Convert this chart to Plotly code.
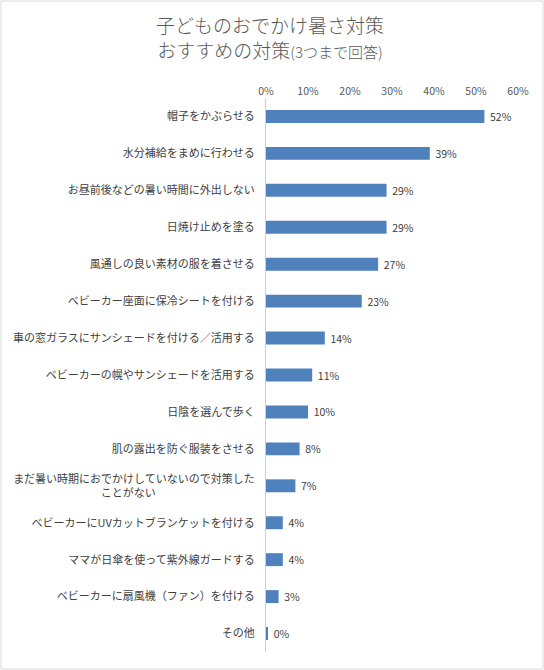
import plotly.graph_objects as go

categories = [
    "帽子をかぶらせる",
    "水分補給をまめに行わせる",
    "お昼前後などの暑い時間に外出しない",
    "日焼け止めを塗る",
    "風通しの良い素材の服を着させる",
    "ベビーカー座面に保冷シートを付ける",
    "車の窓ガラスにサンシェードを付ける／活用する",
    "ベビーカーの幌やサンシェードを活用する",
    "日陰を選んで歩く",
    "肌の露出を防ぐ服装をさせる",
    "まだ暑い時期におでかけしていないので対策した<br>ことがない\u3000\u3000\u3000\u3000\u3000\u3000\u3000\u3000\u3000",
    "ベビーカーにUVカットブランケットを付ける",
    "ママが日傘を使って紫外線ガードする",
    "ベビーカーに扇風機（ファン）を付ける",
    "その他",
]
values = [0.52, 0.39, 0.287, 0.287, 0.267, 0.228, 0.14, 0.11, 0.10, 0.08, 0.07, 0.04, 0.04, 0.03, 0.003]
tick_vals = [0, 0.1, 0.2, 0.3, 0.4, 0.5, 0.6]
tick_text = ["0%", "10%", "20%", "30%", "40%", "50%", "60%"]

FONT = "Noto Sans CJK JP"
W, H = 544, 670
L, R, T, B = 266, 26, 98, 18

fig = go.Figure(go.Bar(
    x=values, y=categories, orientation="h",
    marker=dict(color="#4F81BD", line=dict(width=0)),
    text=["\u2005" + f"{v:.0%}" for v in values], textposition="outside",
    textfont=dict(family=FONT, size=10.5, color="#404040"),
    constraintext="none",
    cliponaxis=False, width=0.35,
))

pw, ph = W - L - R, H - T - B
fig.add_shape(type="rect", xref="paper", yref="paper",
              x0=(1 - L) / pw, x1=(W - 1 - L) / pw,
              y0=(H - B - (H - 1)) / ph, y1=(H - B - 1) / ph,
              line=dict(color="#D9D9D9", width=1), fillcolor="rgba(0,0,0,0)", layer="below")

fig.update_layout(
    width=W, height=H,
    margin=dict(l=L, r=R, t=T, b=B, autoexpand=False),
    paper_bgcolor="white", plot_bgcolor="white",
    showlegend=False,
    font=dict(family=FONT, color="#404040"),
    title=dict(
        text="子どものおでかけ暑さ対策<br>おすすめの対策<span style='font-size:15px'>(3つまで回答)</span>",
        x=270 / W, xanchor="center", y=1 - 33 / H, yanchor="middle",
        font=dict(family=FONT, size=19, color="#595959", weight=300),
    ),
    xaxis=dict(
        side="top", range=[0, 0.6], tickvals=tick_vals, ticktext=tick_text,
        showgrid=False, zeroline=False, showline=False, ticks="",
        tickfont=dict(family=FONT, size=10.5, color="#595959"),
        automargin=False, fixedrange=True,
    ),
    yaxis=dict(
        autorange="reversed", showgrid=False, zeroline=False,
        showline=True, linecolor="#D0D0D0", linewidth=1, ticks="",
        ticklabelstandoff=8, automargin=False,
        tickfont=dict(family=FONT, size=11, color="#404040"),
    ),
)

fig.write_html(
    "out.html",
    config={"displayModeBar": False},
    post_script="document.body.style.margin='0';document.body.style.overflow='hidden';",
)
